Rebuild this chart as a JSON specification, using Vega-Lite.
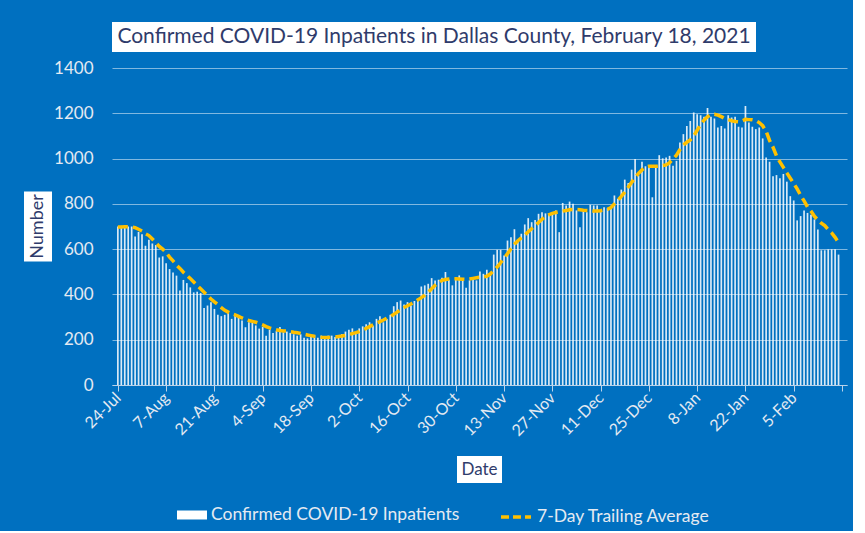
{
  "$schema": "https://vega.github.io/schema/vega-lite/v6.json",
  "background": "#0070C0",
  "padding": {"left": 24, "top": 22, "right": 5, "bottom": 5},
  "config": {
    "view": {"stroke": null},
    "font": "Lato",
    "axis": {"labelFont": "Lato", "titleFont": "Lato"},
    "legend": {"labelFont": "Lato"}
  },
  "spacing": 7,
  "vconcat": [
    {
      "hconcat": [
        {
          "width": 28, "height": 30,
          "view": {"fill": "#0070C0", "stroke": null},
          "data": {"values": []},
          "mark": {"type": "text"},
          "encoding": {"text": {"value": ""}}
        },
        {
          "width": 644, "height": 30,
          "view": {"fill": "#FFFFFF", "stroke": null},
          "data": {"values": [{"t": "Confirmed COVID-19 Inpatients in Dallas County, February 18, 2021"}]},
          "mark": {"type": "text", "font": "Lato", "fontSize": 21, "color": "#2F3B6B"},
          "encoding": {"text": {"field": "t"}}
        }
      ],
      "spacing": 60,
      "bounds": "flush"
    },
    {
      "hconcat": [
        {
          "width": 28, "height": 70,
          "view": {"fill": "#FFFFFF", "stroke": null},
          "data": {"values": [{"t": "Number"}]},
          "mark": {"type": "text", "font": "Lato", "fontSize": 18, "angle": 270, "color": "#2F3B6B"},
          "encoding": {"text": {"field": "t"}}
        },
        {
          "width": 735, "height": 317,
          "data": {"values": [
            {"date":"2020-07-24","count":700,"avg":698},{"date":"2020-07-25","count":703,"avg":698},{"date":"2020-07-26","count":705,"avg":699},{"date":"2020-07-27","count":700,"avg":699},{"date":"2020-07-28","count":700,"avg":698},{"date":"2020-07-29","count":656,"avg":695},{"date":"2020-07-30","count":676,"avg":688},{"date":"2020-07-31","count":666,"avg":680},
            {"date":"2020-08-01","count":615,"avg":668},{"date":"2020-08-02","count":641,"avg":660},{"date":"2020-08-03","count":625,"avg":645},{"date":"2020-08-04","count":618,"avg":629},{"date":"2020-08-05","count":563,"avg":612},{"date":"2020-08-06","count":568,"avg":600},{"date":"2020-08-07","count":538,"avg":585},{"date":"2020-08-08","count":512,"avg":565},{"date":"2020-08-09","count":497,"avg":548},{"date":"2020-08-10","count":483,"avg":530},{"date":"2020-08-11","count":417,"avg":515},{"date":"2020-08-12","count":464,"avg":498},{"date":"2020-08-13","count":450,"avg":484},{"date":"2020-08-14","count":431,"avg":470},{"date":"2020-08-15","count":409,"avg":455},{"date":"2020-08-16","count":412,"avg":440},{"date":"2020-08-17","count":406,"avg":425},{"date":"2020-08-18","count":340,"avg":410},{"date":"2020-08-19","count":351,"avg":395},{"date":"2020-08-20","count":365,"avg":380},{"date":"2020-08-21","count":336,"avg":367},{"date":"2020-08-22","count":310,"avg":355},{"date":"2020-08-23","count":304,"avg":342},{"date":"2020-08-24","count":310,"avg":330},{"date":"2020-08-25","count":319,"avg":322},{"date":"2020-08-26","count":292,"avg":315},{"date":"2020-08-27","count":314,"avg":310},{"date":"2020-08-28","count":299,"avg":303},{"date":"2020-08-29","count":285,"avg":296},{"date":"2020-08-30","count":255,"avg":290},{"date":"2020-08-31","count":277,"avg":285},
            {"date":"2020-09-01","count":274,"avg":281},{"date":"2020-09-02","count":263,"avg":277},{"date":"2020-09-03","count":249,"avg":272},{"date":"2020-09-04","count":256,"avg":266},{"date":"2020-09-05","count":218,"avg":258},{"date":"2020-09-06","count":244,"avg":252},{"date":"2020-09-07","count":230,"avg":248},{"date":"2020-09-08","count":238,"avg":244},{"date":"2020-09-09","count":256,"avg":241},{"date":"2020-09-10","count":233,"avg":239},{"date":"2020-09-11","count":236,"avg":238},{"date":"2020-09-12","count":230,"avg":236},{"date":"2020-09-13","count":224,"avg":233},{"date":"2020-09-14","count":218,"avg":231},{"date":"2020-09-15","count":224,"avg":228},{"date":"2020-09-16","count":209,"avg":224},{"date":"2020-09-17","count":206,"avg":221},{"date":"2020-09-18","count":213,"avg":218},{"date":"2020-09-19","count":218,"avg":215},{"date":"2020-09-20","count":209,"avg":213},{"date":"2020-09-21","count":218,"avg":211},{"date":"2020-09-22","count":203,"avg":210},{"date":"2020-09-23","count":218,"avg":210},{"date":"2020-09-24","count":218,"avg":211},{"date":"2020-09-25","count":212,"avg":212},{"date":"2020-09-26","count":212,"avg":214},{"date":"2020-09-27","count":225,"avg":216},{"date":"2020-09-28","count":236,"avg":219},{"date":"2020-09-29","count":244,"avg":223},{"date":"2020-09-30","count":250,"avg":227},
            {"date":"2020-10-01","count":230,"avg":231},{"date":"2020-10-02","count":250,"avg":236},{"date":"2020-10-03","count":259,"avg":243},{"date":"2020-10-04","count":268,"avg":250},{"date":"2020-10-05","count":277,"avg":258},{"date":"2020-10-06","count":262,"avg":266},{"date":"2020-10-07","count":292,"avg":273},{"date":"2020-10-08","count":304,"avg":280},{"date":"2020-10-09","count":277,"avg":287},{"date":"2020-10-10","count":292,"avg":295},{"date":"2020-10-11","count":310,"avg":302},{"date":"2020-10-12","count":348,"avg":312},{"date":"2020-10-13","count":366,"avg":322},{"date":"2020-10-14","count":373,"avg":332},{"date":"2020-10-15","count":356,"avg":342},{"date":"2020-10-16","count":366,"avg":350},{"date":"2020-10-17","count":351,"avg":358},{"date":"2020-10-18","count":371,"avg":366},{"date":"2020-10-19","count":381,"avg":376},{"date":"2020-10-20","count":435,"avg":386},{"date":"2020-10-21","count":440,"avg":396},{"date":"2020-10-22","count":447,"avg":410},{"date":"2020-10-23","count":472,"avg":425},{"date":"2020-10-24","count":462,"avg":440},{"date":"2020-10-25","count":465,"avg":452},{"date":"2020-10-26","count":474,"avg":462},{"date":"2020-10-27","count":499,"avg":466},{"date":"2020-10-28","count":465,"avg":468},{"date":"2020-10-29","count":440,"avg":469},{"date":"2020-10-30","count":474,"avg":469},{"date":"2020-10-31","count":484,"avg":468},
            {"date":"2020-11-01","count":465,"avg":467},{"date":"2020-11-02","count":429,"avg":466},{"date":"2020-11-03","count":462,"avg":468},{"date":"2020-11-04","count":474,"avg":471},{"date":"2020-11-05","count":462,"avg":474},{"date":"2020-11-06","count":501,"avg":476},{"date":"2020-11-07","count":491,"avg":478},{"date":"2020-11-08","count":509,"avg":480},{"date":"2020-11-09","count":491,"avg":490},{"date":"2020-11-10","count":576,"avg":505},{"date":"2020-11-11","count":597,"avg":521},{"date":"2020-11-12","count":597,"avg":540},{"date":"2020-11-13","count":572,"avg":560},{"date":"2020-11-14","count":638,"avg":580},{"date":"2020-11-15","count":653,"avg":602},{"date":"2020-11-16","count":688,"avg":622},{"date":"2020-11-17","count":631,"avg":637},{"date":"2020-11-18","count":668,"avg":650},{"date":"2020-11-19","count":709,"avg":662},{"date":"2020-11-20","count":737,"avg":677},{"date":"2020-11-21","count":719,"avg":690},{"date":"2020-11-22","count":729,"avg":704},{"date":"2020-11-23","count":756,"avg":718},{"date":"2020-11-24","count":763,"avg":732},{"date":"2020-11-25","count":758,"avg":744},{"date":"2020-11-26","count":757,"avg":752},{"date":"2020-11-27","count":763,"avg":758},{"date":"2020-11-28","count":771,"avg":762},{"date":"2020-11-29","count":675,"avg":765},{"date":"2020-11-30","count":804,"avg":768},
            {"date":"2020-12-01","count":793,"avg":771},{"date":"2020-12-02","count":810,"avg":774},{"date":"2020-12-03","count":800,"avg":775},{"date":"2020-12-04","count":771,"avg":775},{"date":"2020-12-05","count":697,"avg":774},{"date":"2020-12-06","count":771,"avg":772},{"date":"2020-12-07","count":763,"avg":771},{"date":"2020-12-08","count":796,"avg":770},{"date":"2020-12-09","count":793,"avg":768},{"date":"2020-12-10","count":793,"avg":768},{"date":"2020-12-11","count":766,"avg":770},{"date":"2020-12-12","count":785,"avg":773},{"date":"2020-12-13","count":781,"avg":776},{"date":"2020-12-14","count":785,"avg":784},{"date":"2020-12-15","count":837,"avg":800},{"date":"2020-12-16","count":822,"avg":815},{"date":"2020-12-17","count":863,"avg":833},{"date":"2020-12-18","count":907,"avg":852},{"date":"2020-12-19","count":892,"avg":873},{"date":"2020-12-20","count":951,"avg":895},{"date":"2020-12-21","count":998,"avg":915},{"date":"2020-12-22","count":925,"avg":935},{"date":"2020-12-23","count":986,"avg":950},{"date":"2020-12-24","count":966,"avg":962},{"date":"2020-12-25","count":971,"avg":966},{"date":"2020-12-26","count":829,"avg":966},{"date":"2020-12-27","count":971,"avg":966},{"date":"2020-12-28","count":1015,"avg":967},{"date":"2020-12-29","count":1001,"avg":969},{"date":"2020-12-30","count":1005,"avg":972},{"date":"2020-12-31","count":1012,"avg":982},
            {"date":"2021-01-01","count":968,"avg":998},{"date":"2021-01-02","count":990,"avg":1015},{"date":"2021-01-03","count":1071,"avg":1040},{"date":"2021-01-04","count":1108,"avg":1060},{"date":"2021-01-05","count":1144,"avg":1072},{"date":"2021-01-06","count":1166,"avg":1082},{"date":"2021-01-07","count":1203,"avg":1100},{"date":"2021-01-08","count":1196,"avg":1125},{"date":"2021-01-09","count":1191,"avg":1150},{"date":"2021-01-10","count":1185,"avg":1170},{"date":"2021-01-11","count":1223,"avg":1185},{"date":"2021-01-12","count":1185,"avg":1193},{"date":"2021-01-13","count":1177,"avg":1196},{"date":"2021-01-14","count":1137,"avg":1192},{"date":"2021-01-15","count":1144,"avg":1185},{"date":"2021-01-16","count":1133,"avg":1177},{"date":"2021-01-17","count":1191,"avg":1172},{"date":"2021-01-18","count":1181,"avg":1167},{"date":"2021-01-19","count":1185,"avg":1164},{"date":"2021-01-20","count":1141,"avg":1162},{"date":"2021-01-21","count":1137,"avg":1166},{"date":"2021-01-22","count":1232,"avg":1173},{"date":"2021-01-23","count":1159,"avg":1172},{"date":"2021-01-24","count":1141,"avg":1171},{"date":"2021-01-25","count":1130,"avg":1168},{"date":"2021-01-26","count":1137,"avg":1159},{"date":"2021-01-27","count":1089,"avg":1145},{"date":"2021-01-28","count":1005,"avg":1120},{"date":"2021-01-29","count":986,"avg":1080},{"date":"2021-01-30","count":922,"avg":1050},{"date":"2021-01-31","count":927,"avg":1012},
            {"date":"2021-02-01","count":913,"avg":985},{"date":"2021-02-02","count":932,"avg":961},{"date":"2021-02-03","count":898,"avg":937},{"date":"2021-02-04","count":834,"avg":913},{"date":"2021-02-05","count":815,"avg":890},{"date":"2021-02-06","count":727,"avg":866},{"date":"2021-02-07","count":746,"avg":838},{"date":"2021-02-08","count":771,"avg":813},{"date":"2021-02-09","count":760,"avg":786},{"date":"2021-02-10","count":752,"avg":768},{"date":"2021-02-11","count":731,"avg":745},{"date":"2021-02-12","count":687,"avg":730},{"date":"2021-02-13","count":595,"avg":715},{"date":"2021-02-14","count":595,"avg":704},{"date":"2021-02-15","count":599,"avg":686},{"date":"2021-02-16","count":599,"avg":672},{"date":"2021-02-17","count":599,"avg":652},{"date":"2021-02-18","count":576,"avg":630}
          ]},
          "encoding": {
            "x": {
              "field": "date", "type": "temporal",
              "scale": {"type": "utc", "domain": [{"year": 2020, "month": 7, "date": 23, "hours": 18, "utc": true}, {"year": 2021, "month": 2, "date": 19, "utc": true}]},
              "axis": {
                "values": [
                  {"year": 2020, "month": 7, "date": 24, "utc": true},
                  {"year": 2020, "month": 8, "date": 7, "utc": true},
                  {"year": 2020, "month": 8, "date": 21, "utc": true},
                  {"year": 2020, "month": 9, "date": 4, "utc": true},
                  {"year": 2020, "month": 9, "date": 18, "utc": true},
                  {"year": 2020, "month": 10, "date": 2, "utc": true},
                  {"year": 2020, "month": 10, "date": 16, "utc": true},
                  {"year": 2020, "month": 10, "date": 30, "utc": true},
                  {"year": 2020, "month": 11, "date": 13, "utc": true},
                  {"year": 2020, "month": 11, "date": 27, "utc": true},
                  {"year": 2020, "month": 12, "date": 11, "utc": true},
                  {"year": 2020, "month": 12, "date": 25, "utc": true},
                  {"year": 2021, "month": 1, "date": 8, "utc": true},
                  {"year": 2021, "month": 1, "date": 22, "utc": true},
                  {"year": 2021, "month": 2, "date": 5, "utc": true},
                  {"year": 2021, "month": 2, "date": 19, "utc": true}
                ],
                "format": "%-d-%b",
                "labelExpr": "datum.label == '19-Feb' ? '' : datum.label",
                "labelAngle": -45,
                "labelAlign": "right",
                "labelBaseline": "middle",
                "labelFontSize": 16,
                "labelOverlap": false,
                "labelFlush": false,
                "labelColor": "#E4EAF2",
                "labelPadding": 4,
                "grid": false,
                "domainColor": "#B9D2EA",
                "tickColor": "#B9D2EA",
                "tickSize": 6,
                "title": " ",
                "titleFontSize": 8,
                "titlePadding": 2
              }
            }
          },
          "layer": [
            {
              "mark": {"type": "bar", "width": 1.7, "opacity": 0.85},
              "encoding": {
                "y": {
                  "field": "count", "type": "quantitative",
                  "scale": {"domain": [0, 1400], "nice": false},
                  "axis": {
                    "values": [0, 200, 400, 600, 800, 1000, 1200, 1400],
                    "format": "d",
                    "title": null,
                    "ticks": false,
                    "domain": false,
                    "labelPadding": 19,
                    "labelFontSize": 17,
                    "labelColor": "#E4EAF2",
                    "gridColor": "#FFFFFF",
                    "gridOpacity": 0.5
                  }
                },
                "fill": {
                  "datum": "Confirmed COVID-19 Inpatients",
                  "scale": {"range": ["#FFFFFF"]},
                  "legend": {
                    "title": null,
                    "orient": "none",
                    "legendX": 153,
                    "legendY": 478,
                    "symbolType": "M-1,-0.3H1V0.3H-1Z",
                    "symbolSize": 900,
                    "symbolStrokeWidth": 0,
                    "symbolOpacity": 1,
                    "labelFontSize": 17.5,
                    "labelLimit": 500,
                    "labelColor": "#E4EAF2",
                    "labelOffset": 4
                  }
                }
              }
            },
            {
              "mark": {"type": "line", "strokeWidth": 3.5, "strokeDash": [10, 5]},
              "encoding": {
                "y": {"field": "avg", "type": "quantitative"},
                "stroke": {
                  "datum": "7-Day Trailing Average",
                  "scale": {"range": ["#FFC000"]},
                  "legend": {
                    "title": null,
                    "orient": "none",
                    "legendX": 475,
                    "legendY": 478,
                    "symbolType": "stroke",
                    "symbolSize": 900,
                    "symbolStrokeWidth": 3.5,
                    "symbolDash": [8, 4],
                    "symbolOpacity": 1,
                    "labelFontSize": 17.5,
                    "labelLimit": 500,
                    "labelColor": "#E4EAF2",
                    "labelOffset": 4
                  }
                }
              }
            }
          ]
        }
      ],
      "spacing": 60,
      "bounds": "flush",
      "center": true
    },
    {
      "hconcat": [
        {
          "width": 433, "height": 27,
          "view": {"fill": "#0070C0", "stroke": null},
          "data": {"values": []},
          "mark": {"type": "text"},
          "encoding": {"text": {"value": ""}}
        },
        {
          "width": 45, "height": 27,
          "view": {"fill": "#FFFFFF", "stroke": null},
          "data": {"values": [{"t": "Date"}]},
          "mark": {"type": "text", "font": "Lato", "fontSize": 17, "color": "#2F3B6B"},
          "encoding": {"text": {"field": "t"}}
        }
      ],
      "spacing": 0,
      "bounds": "flush"
    }
  ]
}
